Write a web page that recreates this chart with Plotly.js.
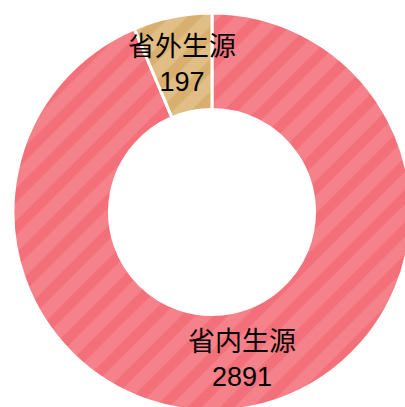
<!DOCTYPE html>
<html>
<head>
<meta charset="utf-8">
<script src="https://cdn.plot.ly/plotly-3.0.1.min.js"></script>
<style>
html, body { margin: 0; padding: 0; overflow: hidden; background: #fff; }
#chart { width: 424px; height: 424px; }
</style>
</head>
<body>
<div id="chart"></div>
<script>
const labels = ["省内生源", "省外生源"];
const values = [2891, 197];
const baseColors = ["#F3707A", "#D8AF6E"];
const stripeColors = ["#F8949A", "#E9CD9E"];

const HOLE = 0.515;
const trace = {
  type: "pie",
  labels: labels,
  values: values,
  hole: HOLE,
  sort: false,
  direction: "clockwise",
  rotation: 0,
  textinfo: "none",
  marker: {
    colors: baseColors,
    line: { color: "#ffffff", width: 3 },
    pattern: {
      shape: "/",
      bgcolor: baseColors,
      fgcolor: stripeColors,
      fillmode: "overlay",
      size: 23,
      solidity: 0.55
    }
  },
  hoverinfo: "none",
  showlegend: false
};

// labels placed at each slice's mid-angle, at the middle of the ring
const total = values.reduce((a, b) => a + b, 0);
const annotations = [];
let acc = 0;
const ringR = 0.5 * (1 + HOLE) / 2; // in paper units (domain is square, radius 0.5)
values.forEach((v, i) => {
  const mid = (acc + v / 2) / total * 2 * Math.PI; // clockwise from top
  acc += v;
  annotations.push({
    xref: "paper", yref: "paper",
    x: 0.5 + ringR * Math.sin(mid),
    y: 0.5 + ringR * Math.cos(mid),
    text: labels[i] + "<br>" + values[i],
    showarrow: false,
    xanchor: "center", yanchor: "middle",
    font: { family: "Liberation Sans, Noto Sans CJK SC, sans-serif", size: 27, color: "#000" }
  });
});

const layout = {
  width: 424,
  height: 424,
  margin: { l: 13, r: 13, t: 13, b: 13 },
  paper_bgcolor: "#fff",
  annotations: annotations,
  showlegend: false
};

Plotly.newPlot("chart", [trace], layout, { staticPlot: true });
</script>
</body>
</html>
